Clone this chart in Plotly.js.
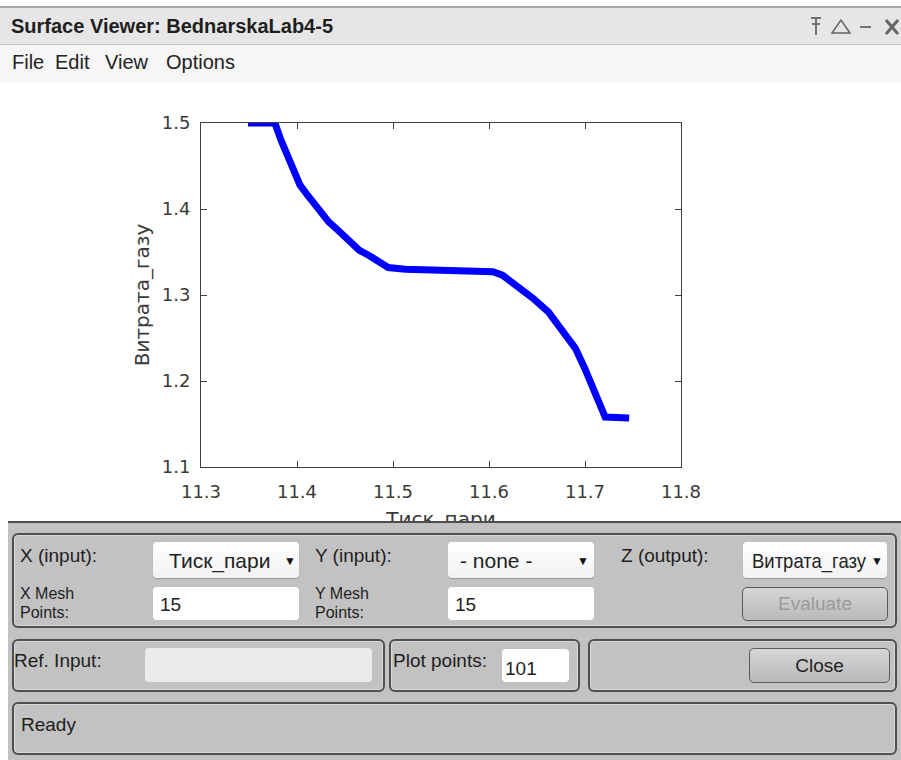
<!DOCTYPE html>
<html>
<head>
<meta charset="utf-8">
<script src="https://cdn.plot.ly/plotly-3.0.1.min.js"></script>
<style>
  html, body { margin:0; padding:0; }
  body { width:901px; height:760px; position:relative; overflow:hidden; background:#ffffff;
         font-family:"Liberation Sans", Arial, sans-serif; color:#222; }
  .abs { position:absolute; }
  #titlebar { left:0; top:6px; width:901px; height:36px; background:#e6e6e6;
              border-top:2px solid #a8a8a8; border-bottom:1px solid #c4c4c4; }
  #title { left:11px; top:7px; font-weight:bold; font-size:20px; color:#1e1e1e; white-space:nowrap; }
  #menubar { left:0; top:45px; width:901px; height:37px; background:#f6f6f6; }
  .mi { position:absolute; top:6px; font-size:20px; color:#222; white-space:nowrap; }
  #plot { left:0; top:82px; width:901px; height:478px; }
  #bottom { left:8px; top:521px; width:893px; height:239px; background:#c2c2c2; border-top:2px solid #4e4e4e; }
  .panel { position:absolute; border:2px solid #4f4f4f; border-radius:6px; box-sizing:border-box;
           box-shadow: inset 0 0 0 1px #d8d8d8; }
  .lbl { position:absolute; font-size:19px; color:#1e1e1e; white-space:nowrap; line-height:19px; }
  .lbl2 { position:absolute; font-size:16px; color:#1e1e1e; white-space:nowrap; line-height:16px; }
  .dd { position:absolute; background:linear-gradient(#ffffff,#f2f2f2); border-radius:4px;
        box-shadow:0 1px 1px #9a9a9a; box-sizing:border-box; overflow:hidden; white-space:nowrap;
        font-size:21px; color:#222; line-height:37px; }
  .arr { position:absolute; font-size:12px; top:1px; line-height:37px; color:#111; }
  .tb { position:absolute; background:#ffffff; border-radius:4px; box-sizing:border-box;
        font-size:19px; color:#222; white-space:nowrap; }
  .btn { position:absolute; border:1.5px solid #5a5a5a; border-radius:5px; box-sizing:border-box;
         background:linear-gradient(#d6d6d6,#b9b9b9); text-align:center; font-size:19px; white-space:nowrap; }
</style>
</head>
<body>
<div id="titlebar" class="abs">
  <div id="title" class="abs">Surface Viewer: BednarskaLab4-5</div>
  <svg class="abs" style="left:800px;top:0px" width="101" height="36">
    <g stroke="#666666" stroke-width="1.8" fill="none">
      <line x1="11" y1="10" x2="21" y2="10"/>
      <line x1="12" y1="16" x2="20" y2="16"/>
      <line x1="16" y1="10" x2="16" y2="27"/>
      <path d="M32 25 L41 12 L50 25 Z" stroke-width="1.5"/>
      <line x1="60" y1="19" x2="71" y2="19"/>
      <line x1="86" y1="12" x2="98" y2="26" stroke-width="3"/>
      <line x1="98" y1="12" x2="86" y2="26" stroke-width="3"/>
    </g>
  </svg>
</div>
<div id="menubar" class="abs">
  <div class="mi" style="left:12px">File</div>
  <div class="mi" style="left:55px">Edit</div>
  <div class="mi" style="left:105px">View</div>
  <div class="mi" style="left:166px">Options</div>
</div>
<div id="plot" class="abs"></div>
<div id="bottom" class="abs">
  <!-- row 1 -->
  <div class="panel" style="left:4px;top:10px;width:885px;height:95px;"></div>
  <div class="lbl" style="left:12px;top:23px;">X (input):</div>
  <div class="dd" style="left:145px;top:19px;width:146px;height:36px;padding-left:16px;">Тиск_пари<span class="arr" style="left:131px">&#9660;</span></div>
  <div class="lbl2" style="left:12px;top:63px;">X Mesh</div>
  <div class="lbl2" style="left:12px;top:82px;">Points:</div>
  <div class="tb" style="left:145px;top:64px;width:146px;height:33px;line-height:36px;padding-left:7px;">15</div>
  <div class="lbl" style="left:307px;top:23px;">Y (input):</div>
  <div class="dd" style="left:440px;top:19px;width:146px;height:36px;padding-left:12px;">- none -<span class="arr" style="left:129px">&#9660;</span></div>
  <div class="lbl2" style="left:307px;top:63px;">Y Mesh</div>
  <div class="lbl2" style="left:307px;top:82px;">Points:</div>
  <div class="tb" style="left:440px;top:64px;width:146px;height:33px;line-height:36px;padding-left:7px;">15</div>
  <div class="lbl" style="left:613px;top:23px;">Z (output):</div>
  <div class="dd" style="left:735px;top:19px;width:144px;height:36px;">
    <span style="position:absolute;left:9px;top:0;display:inline-block;transform:scaleX(0.88);transform-origin:left center;">Витрата_газу</span>
    <span class="arr" style="left:128px">&#9660;</span>
  </div>
  <div class="btn" style="left:734px;top:64px;width:146px;height:34px;line-height:31px;color:#9a9a9a;">Evaluate</div>
  <!-- row 2 -->
  <div class="panel" style="left:4px;top:116px;width:373px;height:53px;"></div>
  <div class="lbl" style="left:6px;top:128px;">Ref. Input:</div>
  <div class="tb" style="left:137px;top:125px;width:227px;height:34px;background:#ebebed;"></div>
  <div class="panel" style="left:381px;top:116px;width:191px;height:53px;"></div>
  <div class="lbl" style="left:385px;top:128px;">Plot points:</div>
  <div class="tb" style="left:494px;top:126px;width:67px;height:33px;line-height:40px;padding-left:3px;">101</div>
  <div class="panel" style="left:580px;top:116px;width:309px;height:53px;"></div>
  <div class="btn" style="left:741px;top:125px;width:141px;height:35px;line-height:33px;color:#222;">Close</div>
  <!-- row 3 -->
  <div class="panel" style="left:4px;top:179px;width:885px;height:53px;"></div>
  <div class="lbl" style="left:13px;top:192px;">Ready</div>
</div>
<script>
// Surface Viewer 1-D output curve: Тиск_пари (input) vs Витрата_газу (output)
var pressure = [11.349, 11.377, 11.383, 11.393, 11.403, 11.411, 11.423, 11.433, 11.443, 11.455,
                11.465, 11.475, 11.487, 11.495, 11.513, 11.586, 11.604, 11.614, 11.632, 11.646,
                11.662, 11.674, 11.690, 11.700, 11.710, 11.721, 11.746];
var gasFlow  = [1.500, 1.500, 1.481, 1.454, 1.428, 1.416, 1.400, 1.385, 1.375, 1.363,
                1.352, 1.346, 1.338, 1.332, 1.330, 1.3285, 1.327, 1.323, 1.309, 1.296,
                1.280, 1.261, 1.238, 1.214, 1.187, 1.158, 1.157];
var xTicks = [11.3, 11.4, 11.5, 11.6, 11.7, 11.8];
var xTickLabels = ['11.3', '11.4', '11.5', '11.6', '11.7', '11.8'];
var yTicks = [1.1, 1.2, 1.3, 1.4, 1.5];
var yTickLabels = ['1.1', '1.2', '1.3', '1.4', '1.5'];
var xName = 'Тиск_пари';
var yName = 'Витрата_газу';

var axisFont = {family: 'DejaVu Sans, sans-serif', size: 18, color: '#3a3a3a'};
var titleFont = {family: 'DejaVu Sans, sans-serif', size: 20, color: '#3a3a3a'};

var trace = {
  x: pressure, y: gasFlow, type: 'scatter', mode: 'lines',
  line: {color: '#0000ff', width: 7}, cliponaxis: false, hoverinfo: 'skip'
};
var layout = {
  width: 901, height: 478,
  margin: {l: 201, r: 220, t: 41, b: 93, pad: 0},
  paper_bgcolor: '#ffffff', plot_bgcolor: '#ffffff',
  showlegend: false,
  xaxis: {
    range: [11.3, 11.8], tickvals: xTicks, ticktext: xTickLabels,
    ticks: 'inside', ticklen: 6, tickwidth: 1, tickcolor: '#404040',
    showline: true, linecolor: '#404040', linewidth: 1, mirror: 'ticks',
    showgrid: false, zeroline: false, tickfont: axisFont, ticklabelstandoff: 8,
    title: {text: xName, font: titleFont, standoff: 11}
  },
  yaxis: {
    range: [1.1, 1.5], tickvals: yTicks, ticktext: yTickLabels,
    ticks: 'inside', ticklen: 6, tickwidth: 1, tickcolor: '#404040',
    showline: true, linecolor: '#404040', linewidth: 1, mirror: 'ticks',
    showgrid: false, zeroline: false, tickfont: axisFont, ticklabelstandoff: 6,
    title: {text: yName, font: titleFont, standoff: 6}
  }
};
Plotly.newPlot('plot', [trace], layout, {displayModeBar: false, staticPlot: true});
</script>
</body>
</html>
